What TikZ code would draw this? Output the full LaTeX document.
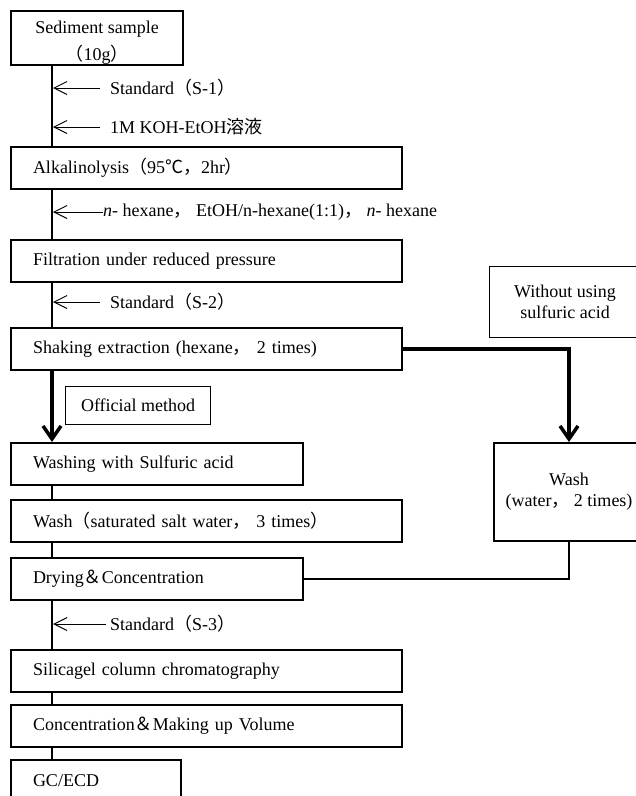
\documentclass[tikz,border=0pt]{standalone}
\usepackage{fontspec}
\setmainfont{Liberation Serif}
\newfontfamily\cjk{Noto Sans CJK JP}
\usetikzlibrary{arrows.meta}
\newcommand\jp[1]{{\cjk #1}}
\begin{document}
\begin{tikzpicture}[x=1pt,y=-1pt,
  every node/.style={font=\fontsize{18}{21}\selectfont, text=black},
  mbox/.style={draw=black, line width=2pt, anchor=north west, minimum height=42pt,
    inner xsep=22pt, inner ysep=0pt, text width=#1, align=left},
  cbox/.style={draw=black, anchor=north west, inner sep=0pt, align=center},
  lbl/.style={anchor=west, inner sep=0pt},
  conn/.style={draw=black, line width=2pt},
  side/.style={draw=black, line width=1pt, -{Straight Barb[length=13pt,width=13pt,line width=1pt]}},
  bigarrow/.style={draw=black, line width=3.5pt, -{Straight Barb[length=13pt,width=18pt,line width=3.5pt]}}
]
\useasboundingbox (0,0) rectangle (636,796);
\clip (0,0) rectangle (636,796);
\coordinate (col) at (52,0);

% main column
\node[cbox, line width=2pt, minimum width=172pt, minimum height=54pt,
  font=\fontsize{18}{26}\selectfont] (sed) at (10,10) {\rule{0pt}{21pt}Sediment sample\\[1pt]\jp{（}10g\jp{）}};
\node[mbox=347pt] (alk) at (10,146) {Alkalinolysis\jp{（}95\jp{℃，}2hr\jp{）}};
\node[mbox=347pt] (fil) at (10,239) {Filtration under reduced pressure};
\node[mbox=347pt] (sha) at (10,327) {Shaking extraction (hexane\jp{，} 2 times)};
\node[mbox=248pt] (wsa) at (10,442) {Washing with Sulfuric acid};
\node[mbox=347pt] (wss) at (10,499) {Wash\jp{（}saturated salt water\jp{，} 3 times\jp{）}};
\node[mbox=248pt] (dry) at (10,557) {Drying\jp{＆}Concentration};
\node[mbox=347pt] (sil) at (10,649) {Silicagel column chromatography};
\node[mbox=347pt] (con) at (10,704) {Concentration\jp{＆}Making up Volume};
\node[mbox=126pt] (gc) at (10,759) {GC/ECD};

% side boxes
\node[cbox, line width=1.2pt, minimum width=145pt, minimum height=38pt] (off) at (65,386) {Official method};
\node[cbox, line width=1.2pt, minimum width=151pt, minimum height=71pt] (wo) at (489,266) {Without using\\sulfuric acid};
\node[cbox, line width=2pt, minimum width=150pt, minimum height=98pt] (wash) at (493,442) {Wash\\(water\jp{，} 2 times)};

% labels on the column
\node[lbl] (s1) at (110,88) {Standard\jp{（}S-1\jp{）}};
\node[lbl] (koh) at (110,127) {1M KOH-EtOH\jp{溶液}};
\node[lbl] (nh) at (103,212) {\textit{n}- hexane\jp{，} EtOH/n-hexane(1:1)\jp{，} \textit{n}- hexane};
\node[lbl] (s2) at (110,302) {Standard\jp{（}S-2\jp{）}};
\node[lbl] (s3) at (110,624) {Standard\jp{（}S-3\jp{）}};

% vertical connectors
\draw[conn] (sed.south -| col) -- (alk.north -| col);
\draw[conn] (alk.south -| col) -- (fil.north -| col);
\draw[conn] (fil.south -| col) -- (sha.north -| col);
\draw[conn] (wsa.south -| col) -- (wss.north -| col);
\draw[conn] (wss.south -| col) -- (dry.north -| col);
\draw[conn] (dry.south -| col) -- (sil.north -| col);
\draw[conn] (sil.south -| col) -- (con.north -| col);
\draw[conn] (con.south -| col) -- (gc.north -| col);

% side arrows
\draw[side] ([xshift=-10pt]s1.west) -- ([xshift=1pt]s1.west -| col);
\draw[side] ([xshift=-10pt]koh.west) -- ([xshift=1pt]koh.west -| col);
\draw[side] (nh.west) -- ([xshift=1pt]nh.west -| col);
\draw[side] ([xshift=-10pt]s2.west) -- ([xshift=1pt]s2.west -| col);
\draw[side] ([xshift=-4pt]s3.west) -- ([xshift=1pt]s3.west -| col);

% thick arrows
\draw[bigarrow] (sha.south -| col) -- (wsa.north -| col);
\draw[bigarrow] (sha.east) -| (wash.north);
\draw[draw=black, line width=1.8pt] (dry.east) -| (wash.south);
\end{tikzpicture}
\end{document}
